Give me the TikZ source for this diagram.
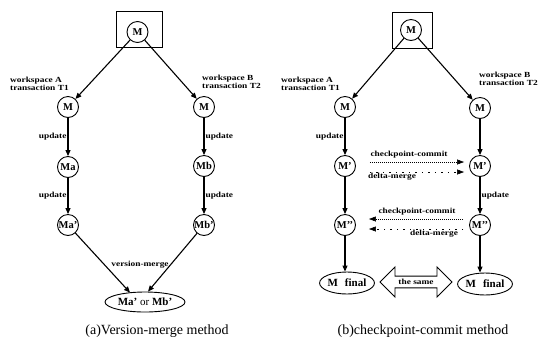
\documentclass[tikz,border=0pt]{standalone}
\usepackage{fontspec}
\setmainfont{Liberation Serif}
\newfontfamily\lblfont[FakeStretch=1.2]{Liberation Serif}
\usetikzlibrary{arrows.meta,shapes.geometric,shapes.arrows,calc}
\begin{document}
\begin{tikzpicture}[x=1pt,y=-1pt,
  st/.style={circle,draw,line width=0.9pt,minimum size=21pt,inner sep=0pt,font=\bfseries\fontsize{10.5}{11}\selectfont},
  fin/.style={ellipse,draw,line width=0.9pt,minimum width=52pt,minimum height=22pt,inner sep=0pt,font=\bfseries\fontsize{11}{12}\selectfont},
  frame/.style={draw,line width=0.8pt,inner sep=0pt},
  lbl/.style={font=\lblfont\bfseries\fontsize{7.8}{8.5}\selectfont,align=left,inner sep=0pt},
  captxt/.style={font=\fontsize{14}{16}\selectfont,inner sep=0pt},
  ar/.style={line width=1.1pt,-{Triangle[length=6pt,width=5pt]}},
  dar/.style={line width=0.6pt,dash pattern=on 1pt off 1pt,-{Triangle[length=7pt,width=5pt]}},
  lar/.style={line width=0.6pt,dash pattern=on 1.5pt off 5pt,-{Triangle[length=7pt,width=5pt]}}
]
\useasboundingbox (0,0) rectangle (540,341);

% ---------------- (a) ----------------
\node[frame,minimum width=46pt,minimum height=36pt] (boxA) at (139,29.5) {};
\node[st] (tA) at (137.5,32) {M};
\node[st] (aL) at (68,107) {M};
\node[st] (aR) at (204,107) {M};
\node[st] (aMa) at (68,167) {Ma};
\node[st] (aMb) at (204,166) {Mb};
\node[st] (aMa2) at (68,225) {Ma'};
\node[st] (aMb2) at (204,225) {Mb'};
\node[ellipse,draw,line width=0.9pt,minimum width=80pt,minimum height=20pt,inner sep=0pt] (ell) at (145,302)
  {\bfseries\fontsize{11}{12}\selectfont Ma'\ {\mdseries or}\ Mb'};

\node[lbl,anchor=west] (wA) at (10,84) {workspace A\\transaction T1};
\node[lbl,anchor=west] (wB) at (202,82) {workspace B\\transaction T2};

\draw[ar] (tA) -- (aL);
\draw[ar] (tA) -- (aR);
\draw[ar] (aL) -- node[lbl,left=1pt] (u1) {update} (aMa);
\draw[ar] (aMa) -- node[lbl,left=1pt] (u2) {update} (aMa2);
\draw[ar] (aR) -- node[lbl,right=1pt] (u3) {update} (aMb);
\draw[ar] (aMb) -- node[lbl,right=1pt] (u4) {update} (aMb2);
\draw[ar] (aMa2) -- ($(ell.north)+(-15,1)$);
\draw[ar] (aMb2) -- ($(ell.north)+(3,0)$);
\node[lbl] (vm) at (140,265) {version-merge};

\node[captxt] (capA) at (157,331) {(a)Version-merge method};

% ---------------- (b) ----------------
\node[frame,minimum width=40pt,minimum height=36pt] (boxB) at (412,30) {};
\node[st] (tB) at (411,30) {M};
\node[st] (bL) at (345,107) {M};
\node[st] (bR) at (480,108) {M};
\node[st] (bP1) at (345,166) {M'};
\node[st] (bP2) at (480,166) {M'};
\node[st] (bQ1) at (345,225) {M'{}'};
\node[st] (bQ2) at (480,225) {M'{}'};
\node[fin] (f1) at (347,283) {M\hspace{7pt}final};
\node[fin] (f2) at (485,284) {M\hspace{7pt}final};

\node[lbl,anchor=west] (wA2) at (281,84) {workspace A\\transaction T1};
\node[lbl,anchor=west] (wB2) at (479,79) {workspace B\\transaction T2};

\draw[ar] (tB) -- (bL);
\draw[ar] (tB) -- (bR);
\draw[ar] (bL) -- node[lbl,left=1pt] (u5) {update} (bP1);
\draw[ar] (bP1) -- (bQ1);
\draw[ar] (bQ1) -- (bQ1 |- f1.north);
\draw[ar] (bR) -- (bP2);
\draw[ar] (bP2) -- node[lbl,right=1pt] (u6) {update} (bQ2);
\draw[ar] (bQ2) -- (bQ2 |- f2.north);

% checkpoint-commit / delta-merge (top, to the right)
\coordinate (c1s) at ($(bP1.east)+(14,-4)$);
\coordinate (c1e) at ($(bP2.west)+(-5,-4)$);
\coordinate (d1s) at ($(bP1.east)+(14,6)$);
\coordinate (d1e) at ($(bP2.west)+(-5,6)$);
\draw[dar] (c1s) -- (c1e);
\draw[lar] (d1s) -- (d1e);
\node[lbl] (cc1) at (409,155) {checkpoint-commit};
\node[lbl] (dm1) at (392,177) {delta-merge};

% bottom, to the left
\coordinate (c2s) at ($(bQ2.west)+(-6,-6)$);
\coordinate (c2e) at ($(bQ1.east)+(13,-6)$);
\coordinate (d2s) at ($(bQ2.west)+(-6,4)$);
\coordinate (d2e) at ($(bQ1.east)+(13,4)$);
\draw[dar] (c2s) -- (c2e);
\draw[lar] (d2s) -- (d2e);
\node[lbl] (cc2) at (417,212) {checkpoint-commit};
\node[lbl] (dm2) at (434,234) {delta-merge};

\node[double arrow,draw,line width=0.9pt,double arrow head extend=5pt,minimum height=72pt,minimum width=30pt,inner sep=0pt,lbl] (same) at (416,282) {the same};

\node[captxt] (capB) at (423,331) {(b)checkpoint-commit method};
\end{tikzpicture}
\end{document}
